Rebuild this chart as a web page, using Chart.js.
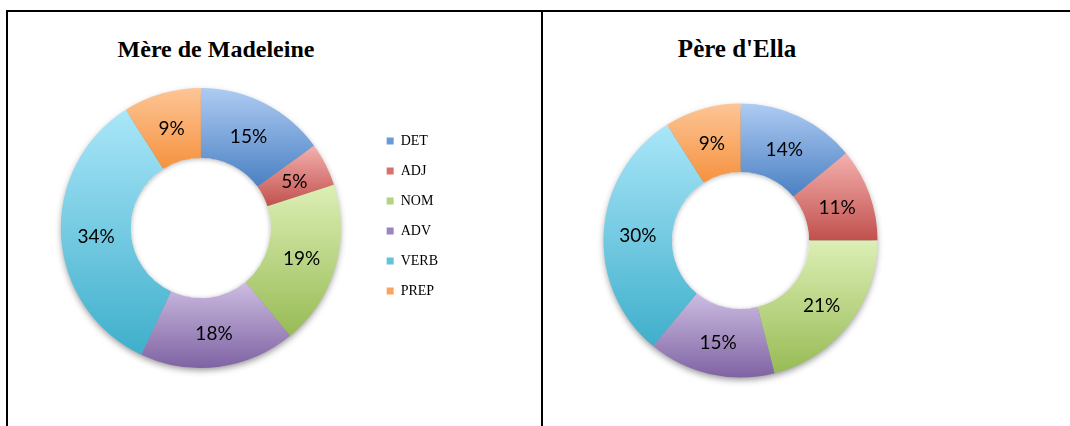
<!DOCTYPE html>
<html>
<head>
<meta charset="utf-8">
<script src="https://cdn.jsdelivr.net/npm/chart.js@4.4.1/dist/chart.umd.min.js"></script>
<style>
    html, body { margin: 0; padding: 0; background: #fff; }
    body { width: 1070px; height: 426px; position: relative; overflow: hidden; }
    .frame { position: absolute; left: 6px; top: 10px; width: 1064px; height: 416px;
             border-top: 2px solid #000; border-left: 2px solid #000; box-sizing: border-box; }
    .divider { position: absolute; left: 541px; top: 10px; width: 2px; height: 416px; background: #000; }
    .title { position: absolute; top: 37px; transform: translateX(-50%); white-space: nowrap;
             font-family: 'Liberation Serif', serif; font-weight: bold; font-size: 24px; line-height: 24px; color: #000; }
    canvas { position: absolute; top: 12px; }
</style>
</head>
<body>
<div class="frame"></div>
<div class="divider"></div>
<div class="title" style="left:216px">Mère de Madeleine</div>
<div class="title" style="left:737px;font-size:25px">Père d'Ella</div>
<canvas id="mere-chart" width="533" height="414" style="left:8px"></canvas>
<canvas id="pere-chart" width="527" height="414" style="left:543px"></canvas>
<script>
const categories = ['DET', 'ADJ', 'NOM', 'ADV', 'VERB', 'PREP'];
const mereValues = [15, 5, 19, 18, 34, 9];
const pereValues = [14, 11, 21, 15, 30, 9];

// top / bottom shade of each slice, plus the flat legend colour
const lightColors = ['#aecbf3', '#f4b1ae', '#dcefb5', '#ccbde1', '#aae6f9', '#fdc596'];
const darkColors  = ['#4a80c2', '#c1504d', '#98bb55', '#7f63a3', '#3fafcb', '#f5923f'];
const legendColors = ['#6a9bd8', '#d9706c', '#b4d47f', '#9c84bf', '#62c3dc', '#f9a461'];

// vertical gradient spanning each slice's own height
const sliceFill = (radius) => (ctx) => {
    const chart = ctx.chart;
    const area = chart.chartArea;
    const i = ctx.dataIndex;
    if (!area || ctx.type !== 'data') return darkColors[i];
    const data = ctx.dataset.data;
    const total = data.reduce((a, b) => a + b, 0);
    const before = data.slice(0, i).reduce((a, b) => a + b, 0);
    const a0 = -Math.PI / 2 + 2 * Math.PI * before / total;
    const a1 = a0 + 2 * Math.PI * data[i] / total;
    const cy = (area.top + area.bottom) / 2;
    const rIn = radius * 0.5;
    const ys = [];
    [a0, a1].forEach(a => {
        ys.push(cy + rIn * Math.sin(a), cy + radius * Math.sin(a));
    });
    if (a0 < Math.PI / 2 && a1 > Math.PI / 2) ys.push(cy + radius);
    if (a0 < 3 * Math.PI / 2 && a1 > 3 * Math.PI / 2) ys.push(cy - radius);
    const g = chart.ctx.createLinearGradient(0, Math.min(...ys), 0, Math.max(...ys));
    g.addColorStop(0, lightColors[i]);
    g.addColorStop(1, darkColors[i]);
    return g;
};

// soft drop shadow under the ring and a faint inner shade in the hole
const ringShadow = {
    id: 'ringShadow',
    beforeDatasetsDraw(chart) {
        const arc = chart.getDatasetMeta(0).data[0];
        if (!arc) return;
        const {x, y, outerRadius, innerRadius} = arc.getProps(['x', 'y', 'outerRadius', 'innerRadius'], true);
        const c = chart.ctx;
        c.save();
        c.shadowColor = 'rgba(0,0,0,0.45)';
        c.shadowBlur = 7;
        c.shadowOffsetX = 4000;
        c.shadowOffsetY = 3;
        c.fillStyle = '#000';
        c.beginPath();
        c.arc(x - 4000, y, outerRadius - 1, 0, Math.PI * 2);
        c.fill();
        c.restore();
        c.save();
        c.fillStyle = '#fff';
        c.beginPath();
        c.arc(x, y, innerRadius + 1, 0, Math.PI * 2);
        c.fill();
        c.restore();
    },
    afterDatasetsDraw(chart) {
        const arc = chart.getDatasetMeta(0).data[0];
        if (!arc) return;
        const {x, y, innerRadius} = arc.getProps(['x', 'y', 'innerRadius'], true);
        const c = chart.ctx;
        c.save();
        c.beginPath();
        c.arc(x, y, innerRadius, 0, Math.PI * 2);
        c.clip();
        c.shadowColor = 'rgba(0,0,0,0.3)';
        c.shadowBlur = 5;
        c.shadowOffsetY = 1;
        c.strokeStyle = '#fff';
        c.lineWidth = 40;
        c.beginPath();
        c.arc(x, y, innerRadius + 20, 0, Math.PI * 2);
        c.stroke();
        c.restore();
    }
};

// percentage written in the middle of each slice
const sliceLabels = {
    id: 'sliceLabels',
    afterDatasetsDraw(chart) {
        const meta = chart.getDatasetMeta(0);
        const data = chart.data.datasets[0].data;
        const c = chart.ctx;
        c.save();
        c.font = '19px Lato';
        c.fillStyle = '#000';
        c.textAlign = 'center';
        c.textBaseline = 'middle';
        meta.data.forEach((arc, i) => {
            const p = arc.tooltipPosition(true);
            c.fillText(data[i] + '%', p.x, p.y + 2);
        });
        c.restore();
    }
};

const makeDonut = (canvas, values, radius, padding, showLegend) => new Chart(canvas, {
    type: 'doughnut',
    data: {
        labels: categories,
        datasets: [{
            data: values,
            backgroundColor: sliceFill(radius),
            borderWidth: 0,
            clip: false
        }]
    },
    options: {
        responsive: false,
        animation: false,
        events: [],
        radius: radius,
        cutout: '50%',
        layout: { padding: padding },
        plugins: {
            tooltip: { enabled: false },
            legend: {
                display: showLegend,
                position: 'right',
                align: 'start',
                labels: {
                    boxWidth: 7,
                    boxHeight: 7,
                    padding: 16,
                    color: '#000',
                    font: { family: 'Liberation Serif', size: 14 },
                    generateLabels: (chart) => chart.data.labels.map((label, i) => ({
                        text: label,
                        fillStyle: legendColors[i],
                        strokeStyle: legendColors[i],
                        lineWidth: 0,
                        hidden: false,
                        index: i
                    }))
                }
            }
        }
    },
    plugins: [ringShadow, sliceLabels]
});

makeDonut(document.getElementById('mere-chart'), mereValues, 140,
    { left: 23, right: 93, top: 106, bottom: 88 }, true);
makeDonut(document.getElementById('pere-chart'), pereValues, 137,
    { left: 0, right: 132, top: 63, bottom: 20 }, false);
</script>
</body>
</html>
